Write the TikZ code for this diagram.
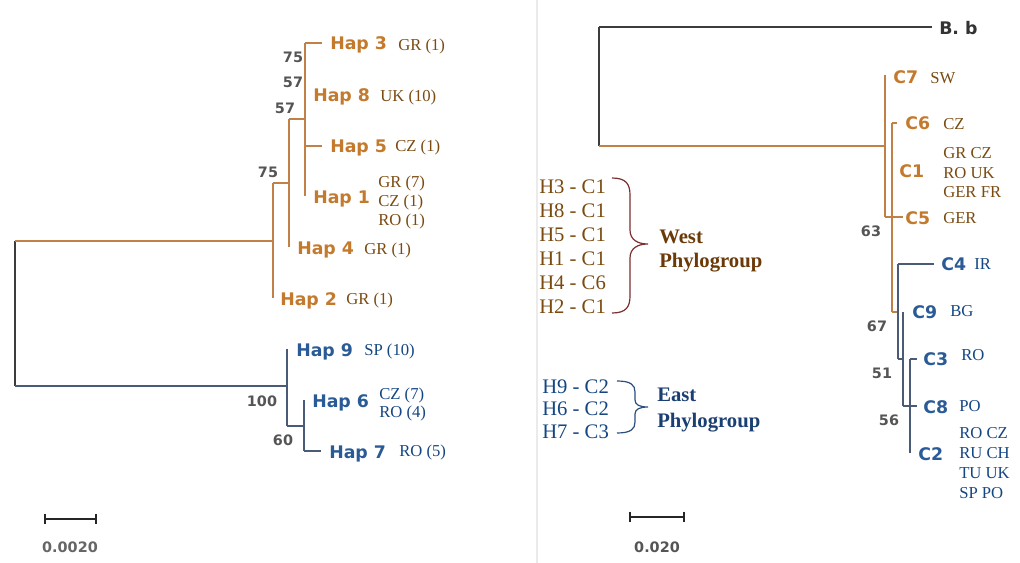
\documentclass[tikz,border=0pt]{standalone}
\usepackage{fontspec}
\setmainfont{Liberation Serif}
\newfontfamily\dv{DejaVu Sans}
\definecolor{orline}{RGB}{192,128,70}
\definecolor{hapor}{RGB}{196,122,44}
\definecolor{serbr}{RGB}{122,74,16}
\definecolor{blline}{RGB}{74,91,120}
\definecolor{hapbl}{RGB}{42,91,150}
\definecolor{serbl}{RGB}{20,70,130}
\definecolor{bootgray}{RGB}{85,85,85}
\definecolor{rootdark}{RGB}{60,60,60}
\definecolor{westtxt}{RGB}{107,58,8}
\definecolor{westbr}{RGB}{123,47,47}
\definecolor{easttxt}{RGB}{27,63,115}
\definecolor{eastbr}{RGB}{42,79,127}
\tikzset{
  hap/.style={anchor=west, inner sep=0pt, font=\dv\bfseries\fontsize{13}{15}\selectfont, text height=9.5pt, text depth=0pt},
  ser/.style={anchor=west, inner sep=0pt, font=\fontsize{12.5}{14}\selectfont, text height=8.3pt, text depth=0pt},
  midt/.style={anchor=west, inner sep=0pt, font=\fontsize{15.5}{18}\selectfont, text height=10.3pt, text depth=0pt},
  midb/.style={anchor=west, inner sep=0pt, font=\bfseries\fontsize{15.5}{18}\selectfont, text height=10.3pt, text depth=0pt},
  boot/.style={anchor=center, inner sep=0pt, text=bootgray, font=\dv\bfseries\fontsize{10.8}{12}\selectfont, text height=7.9pt, text depth=0pt},
  orb/.style={draw=orline, line width=1pt},
  blb/.style={draw=blline, line width=1pt},
  dkb/.style={draw=rootdark, line width=1pt},
  scalebar/.style={draw=black!85, line width=1pt},
}
\begin{document}
\begin{tikzpicture}[x=0.75pt,y=-0.75pt]
\useasboundingbox (0,0) rectangle (1020,563);
\fill[white] (0,0) rectangle (1020,563);
% separator
\coordinate (s1) at (537,0); \coordinate (s2) at (537,563);
\draw[black!8, line width=0.8pt] (s1) -- (s2);

% ================= LEFT TREE =================
\coordinate (Lrt) at (15,241); \coordinate (Lrb) at (15,386);
\coordinate (n1) at (273,241); \coordinate (n1t) at (273,183); \coordinate (n1b) at (273,298);
\coordinate (n2) at (289,183); \coordinate (n2t) at (289,119); \coordinate (n2b) at (289,247);
\coordinate (n3) at (305,119); \coordinate (n3t) at (305,43); \coordinate (n3b) at (305,196);
\coordinate (h3e) at (322,43); \coordinate (h5s) at (305,146); \coordinate (h5e) at (322,146);
\coordinate (n4) at (287,386); \coordinate (n4t) at (287,349); \coordinate (n4b) at (287,426);
\coordinate (n5) at (304,426); \coordinate (n5t) at (304,400); \coordinate (n5b) at (304,451);
\coordinate (h7e) at (321,451);

\draw[dkb] (Lrt) -- (Lrb);
\draw[orb] (Lrt) -- (n1);
\draw[orb] (n1t) -- (n1b);
\draw[orb] (n1t) -- (n2);
\draw[orb] (n2t) -- (n2b);
\draw[orb] (n2t) -- (n3);
\draw[orb] (n3t) -- (n3b);
\draw[orb] (n3t) -- (h3e);
\draw[orb] (h5s) -- (h5e);
\draw[blb] (Lrb) -- (n4);
\draw[blb] (n4t) -- (n4b);
\draw[blb] (n4b) -- (n5);
\draw[blb] (n5t) -- (n5b);
\draw[blb] (n5b) -- (h7e);

\node[hap, text=hapor] (hap3) at (330,43) {Hap 3};
\node[ser, text=serbr] (hap3c) at (398,45) {GR (1)};
\node[hap, text=hapor] (hap8) at (313,95) {Hap 8};
\node[ser, text=serbr] (hap8c) at (380,96) {UK (10)};
\node[hap, text=hapor] (hap5) at (330,146) {Hap 5};
\node[ser, text=serbr] (hap5c) at (395,146) {CZ (1)};
\node[hap, text=hapor] (hap1) at (313,197) {Hap 1};
\node[ser, text=serbr] (hap1a) at (378,182) {GR (7)};
\node[ser, text=serbr] (hap1b) at (378,201) {CZ (1)};
\node[ser, text=serbr] (hap1c) at (378,220) {RO (1)};
\node[hap, text=hapor] (hap4) at (297,248) {Hap 4};
\node[ser, text=serbr] (hap4c) at (364,249) {GR (1)};
\node[hap, text=hapor] (hap2) at (280,299) {Hap 2};
\node[ser, text=serbr] (hap2c) at (346,299) {GR (1)};
\node[hap, text=hapbl] (hap9) at (296,350) {Hap 9};
\node[ser, text=serbl] (hap9c) at (364,350) {SP (10)};
\node[hap, text=hapbl] (hap6) at (312,401) {Hap 6};
\node[ser, text=serbl] (hap6a) at (379,394) {CZ (7)};
\node[ser, text=serbl] (hap6b) at (379,412) {RO (4)};
\node[hap, text=hapbl] (hap7) at (329,452) {Hap 7};
\node[ser, text=serbl] (hap7c) at (399,451) {RO (5)};

\node[boot] (b1) at (293,57) {75};
\node[boot] (b2) at (293,82) {57};
\node[boot] (b3) at (285,108) {57};
\node[boot] (b4) at (268,172) {75};
\node[boot] (b5) at (262,401) {100};
\node[boot] (b6) at (283,440) {60};

% scale left
\coordinate (sl1) at (45,519); \coordinate (sl2) at (96,519);
\draw[scalebar] (sl1) -- (sl2);
\draw[scalebar] ([yshift=4pt]sl1) -- ([yshift=-4pt]sl1);
\draw[scalebar] ([yshift=4pt]sl2) -- ([yshift=-4pt]sl2);
\node[boot, text=bootgray!90] (sll) at (70,547) {0.0020};

% ================= RIGHT TREE =================
\coordinate (Rrt) at (599,27); \coordinate (Rrb) at (599,146);
\coordinate (bbe) at (932,27);
\coordinate (A) at (885,146); \coordinate (At) at (885,75); \coordinate (Ab) at (885,217);
\coordinate (c5e) at (903,217);
\coordinate (Bt) at (892,123); \coordinate (Bb) at (892,312); \coordinate (c6e) at (897,123);
\coordinate (C) at (898,312); \coordinate (Ct) at (898,264); \coordinate (Cb) at (898,359);
\coordinate (c4e) at (934,264);
\coordinate (D) at (903,359); \coordinate (Dt) at (903,312); \coordinate (Db) at (903,406);
\coordinate (E) at (910,406); \coordinate (Et) at (910,359); \coordinate (Eb) at (910,453);
\coordinate (c3e) at (917,359); \coordinate (c8e) at (917,406);

\draw[dkb] (Rrt) -- (Rrb);
\draw[dkb] (Rrt) -- (bbe);
\draw[orb] (Rrb) -- (A);
\draw[orb] (At) -- (Ab);
\draw[orb] (Ab) -- (c5e);
\draw[orb] (Bt) -- (Bb);
\draw[orb] (Bt) -- (c6e);
\draw[orb] (Bb) -- (C);
\draw[blb] (Ct) -- (Cb);
\draw[blb] (Ct) -- (c4e);
\draw[blb] (Cb) -- (D);
\draw[blb] (Dt) -- (Db);
\draw[blb] (Db) -- (E);
\draw[blb] (Et) -- (Eb);
\draw[blb] (Et) -- (c3e);
\draw[blb] (E) -- (c8e);

\node[hap, text=black!80] (bb) at (939,28) {B. b};
\node[hap, text=hapor] (c7) at (893,77) {C7};
\node[ser, text=serbr] (c7c) at (930,78) {SW};
\node[hap, text=hapor] (c6) at (905,123) {C6};
\node[ser, text=serbr] (c6c) at (943,124) {CZ};
\node[hap, text=hapor] (c1) at (899,171) {C1};
\node[ser, text=serbr] (c1a) at (943,153) {GR CZ};
\node[ser, text=serbr] (c1b) at (943,173) {RO UK};
\node[ser, text=serbr] (c1c) at (943,192) {GER FR};
\node[hap, text=hapor] (c5) at (905,218) {C5};
\node[ser, text=serbr] (c5c) at (943,218) {GER};
\node[hap, text=hapbl] (c4) at (941,264) {C4};
\node[ser, text=serbl] (c4c) at (974,264) {IR};
\node[hap, text=hapbl] (c9) at (912,312) {C9};
\node[ser, text=serbl] (c9c) at (950,311) {BG};
\node[hap, text=hapbl] (c3) at (923,359) {C3};
\node[ser, text=serbl] (c3c) at (961,355) {RO};
\node[hap, text=hapbl] (c8) at (923,407) {C8};
\node[ser, text=serbl] (c8c) at (959,406) {PO};
\node[hap, text=hapbl] (c2) at (918,454) {C2};
\node[ser, text=serbl] (c2a) at (959,433) {RO CZ};
\node[ser, text=serbl] (c2b) at (959,453) {RU CH};
\node[ser, text=serbl] (c2c) at (959,473) {TU UK};
\node[ser, text=serbl] (c2d) at (959,493) {SP PO};

\node[boot] (r1) at (871,231) {63};
\node[boot] (r2) at (877,326) {67};
\node[boot] (r3) at (882,373) {51};
\node[boot] (r4) at (889,420) {56};

% scale right
\coordinate (sr1) at (630,517); \coordinate (sr2) at (684,517);
\draw[scalebar] (sr1) -- (sr2);
\draw[scalebar] ([yshift=4pt]sr1) -- ([yshift=-4pt]sr1);
\draw[scalebar] ([yshift=4pt]sr2) -- ([yshift=-4pt]sr2);
\node[boot] (srl) at (657,547) {0.020};

% ================= MIDDLE =================
\node[midt, text=serbr] (w1) at (539,187) {H3 - C1};
\node[midt, text=serbr] (w2) at (539,211) {H8 - C1};
\node[midt, text=serbr] (w3) at (539,235) {H5 - C1};
\node[midt, text=serbr] (w4) at (539,259) {H1 - C1};
\node[midt, text=serbr] (w5) at (539,283) {H4 - C6};
\node[midt, text=serbr] (w6) at (539,307) {H2 - C1};
\draw[westbr, line width=0.9pt] (612,178) .. controls (626,178) and (630,184) .. (630,195) -- (630,230) .. controls (630,240) and (638,244) .. (648,244) .. controls (638,244) and (630,248) .. (630,258) -- (630,296) .. controls (630,307) and (626,313) .. (612,313);
\node[midb, text=westtxt] (west1) at (659,237) {West};
\node[midb, text=westtxt] (west2) at (659,261) {Phylogroup};

\node[midt, text=serbl] (e1) at (542,387) {H9 - C2};
\node[midt, text=serbl] (e2) at (542,409) {H6 - C2};
\node[midt, text=serbl] (e3) at (542,432) {H7 - C3};
\draw[eastbr, line width=0.9pt] (617,381) .. controls (631,381) and (635,385) .. (635,392) -- (635,400) .. controls (635,405) and (640,407) .. (648,407) .. controls (640,407) and (635,409) .. (635,414) -- (635,422) .. controls (635,429) and (631,433) .. (617,433);
\node[midb, text=easttxt] (east1) at (657,395) {East};
\node[midb, text=easttxt] (east2) at (657,421) {Phylogroup};
\end{tikzpicture}
\end{document}
